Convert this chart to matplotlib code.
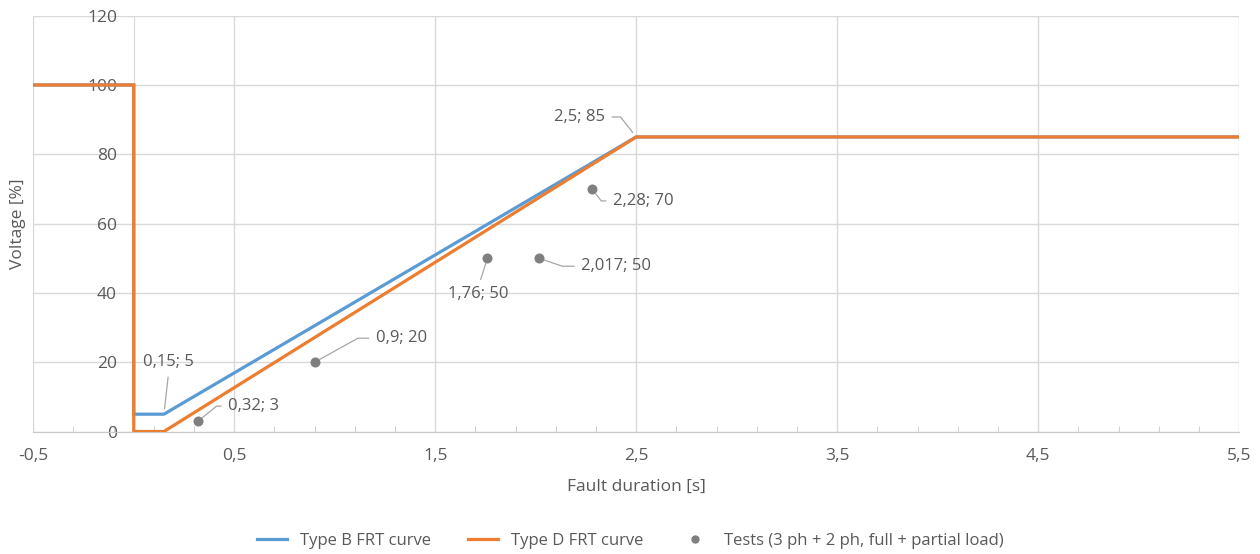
import matplotlib

matplotlib.use("Agg")
import matplotlib.pyplot as plt
import numpy as np
from matplotlib.lines import Line2D
from matplotlib.ticker import FixedLocator, FuncFormatter

plt.rcParams["font.family"] = ["Open Sans", "DejaVu Sans"]

# FRT curves (x = fault duration in s, y = voltage in %)
type_b_x = [-0.5, 0, 0, 0.15, 2.5, 5.5]
type_b_y = [100, 100, 5, 5, 85, 85]
type_d_x = [-0.5, 0, 0, 0.15, 2.5, 5.5]
type_d_y = [100, 100, 0, 0, 85, 85]

# test points
test_x = [0.32, 0.9, 1.76, 2.017, 2.28]
test_y = [3, 20, 50, 50, 70]
test_labels = ["0,32; 3", "0,9; 20", "1,76; 50", "2,017; 50", "2,28; 70"]

# labelled curve corners
corner_x = [0.15, 2.5]
corner_y = [5, 85]
corner_labels = ["0,15; 5", "2,5; 85"]

BLUE = "#5b9bd5"
ORANGE = "#ed7d31"
GREY = "#7f7f7f"
TEXT = "#595959"
GRID = "#d9d9d9"
LEADER = "#a6a6a6"

fig = plt.figure(figsize=(12.6, 5.54), dpi=100)
ax = fig.add_axes([0.0264, 0.2211, 0.9570, 0.7506])

ax.plot(type_b_x, type_b_y, color=BLUE, lw=2.3, solid_joinstyle="miter", zorder=3)
ax.plot(type_d_x, type_d_y, color=ORANGE, lw=2.3, solid_joinstyle="miter", zorder=4)
ax.scatter(test_x, test_y, s=52, color=GREY, zorder=5, linewidths=0)

ax.set_xlim(-0.5, 5.5)
ax.set_ylim(0, 120)
ax.xaxis.set_major_locator(FixedLocator(np.arange(-0.5, 5.51, 1.0)))
ax.xaxis.set_minor_locator(FixedLocator(np.arange(-0.5, 5.51, 0.2)))
ax.yaxis.set_major_locator(FixedLocator(np.arange(0, 121, 20)))
ax.xaxis.set_major_formatter(FuncFormatter(lambda v, p: f"{v:g}".replace(".", ",")))
ax.yaxis.set_major_formatter(FuncFormatter(lambda v, p: f"{v:g}"))

ax.grid(True, which="major", color=GRID, lw=1.0, zorder=0)
ax.set_axisbelow(True)
for s in ["top", "right"]:
    ax.spines[s].set_visible(False)
ax.spines["left"].set_position(("data", 0))
ax.spines["left"].set_color(GRID)
ax.spines["bottom"].set_color("#c8c8c8")
ax.tick_params(axis="y", length=0, pad=12, labelsize=12.5, labelcolor=TEXT)
ax.tick_params(axis="x", which="major", length=0, pad=12, labelsize=12.5, labelcolor=TEXT)
ax.tick_params(axis="x", which="minor", direction="in", length=4, color="#c8c8c8")

ax.set_xlabel("Fault duration [s]", fontsize=12.5, color=TEXT, va="center")
ax.xaxis.set_label_coords(0.5, -0.134)
ax.set_ylabel("Voltage [%]", fontsize=12.5, color=TEXT, va="center")
ax.yaxis.set_label_coords(-0.0124, 0.5)

# data labels: offset (px), alignment, leader style
label_style = {
    "0,32; 3": ((30, 15), "left", (0, 0.5), "angle,angleA=0,angleB=39,rad=0"),
    "0,9; 20": ((61, 24), "left", (0, 0.5), "angle,angleA=0,angleB=29,rad=0"),
    "1,76; 50": ((-9, -36), "center", (0.5, 1), "arc3"),
    "2,017; 50": ((42, -8), "left", (0, 0.5), "angle,angleA=0,angleB=-19,rad=0"),
    "2,28; 70": ((21, -12), "left", (0, 0.5), "angle,angleA=0,angleB=-52,rad=0"),
    "0,15; 5": ((5, 52), "center", (0.5, 0), "arc3"),
    "2,5; 85": ((-31, 20), "right", (1, 0.5), "angle,angleA=0,angleB=-52,rad=0"),
}

for xs, ys, labels in [(test_x, test_y, test_labels), (corner_x, corner_y, corner_labels)]:
    for x, y, lab in zip(xs, ys, labels):
        off, ha, rel, conn = label_style[lab]
        ax.annotate(lab, (x, y), xytext=off, textcoords="offset pixels",
                    ha=ha, va="center", fontsize=12, color=TEXT, zorder=6,
                    arrowprops=dict(arrowstyle="-", color=LEADER, lw=0.9,
                                    connectionstyle=conn, relpos=rel,
                                    shrinkA=3, shrinkB=4))

handles = [
    Line2D([], [], color=BLUE, lw=2.3),
    Line2D([], [], color=ORANGE, lw=2.3),
    Line2D([], [], color=GREY, lw=0, marker="o", markersize=5),
]
fig.legend(handles, ["Type B FRT curve", "Type D FRT curve",
                     "Tests (3 ph + 2 ph, full + partial load)"],
           loc="center", bbox_to_anchor=(0.5, 0.0235), ncol=3, frameon=False,
           fontsize=12, labelcolor=TEXT, handlelength=1.8, handletextpad=0.8,
           columnspacing=2.2)

fig.savefig("out.png", dpi=100)
